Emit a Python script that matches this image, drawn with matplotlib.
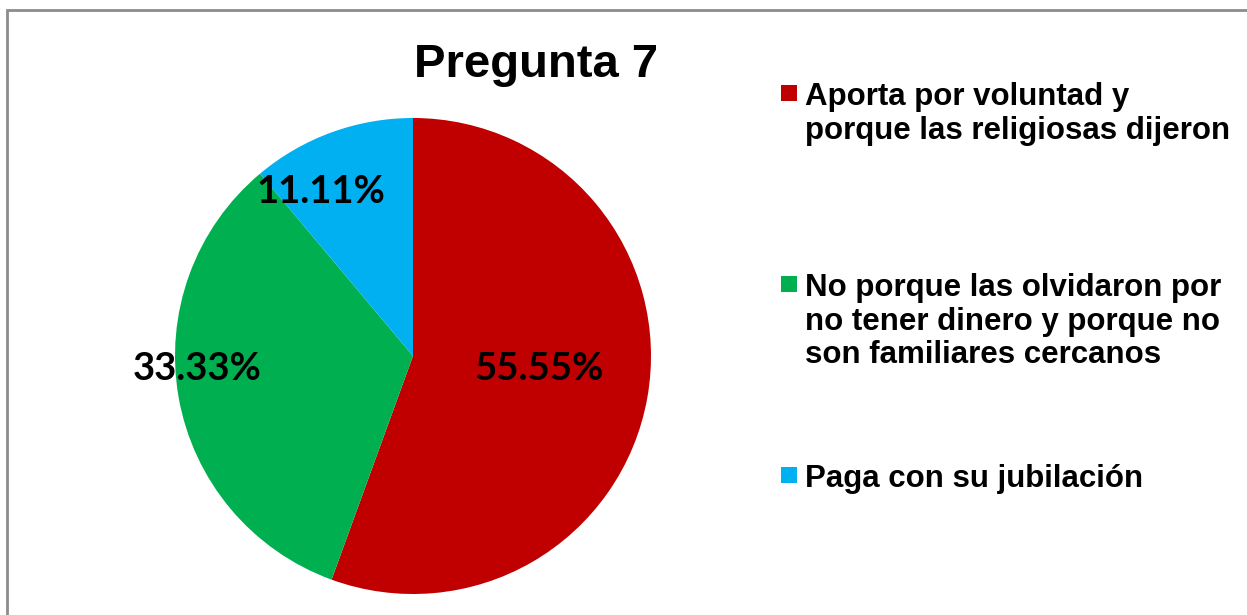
import numpy as np
import matplotlib.pyplot as plt
from matplotlib.patches import Rectangle

# datos de la pregunta 7
categorias = ['Aporta por voluntad y\nporque las religiosas dijeron',
              'No porque las olvidaron por\nno tener dinero y porque no\nson familiares cercanos',
              'Paga con su jubilación']
valores = [55.55, 33.33, 11.11]
colores = ['#C00000', '#00B050', '#00B0F0']
titulo = 'Pregunta 7'

W, H = 1247, 615
fig = plt.figure(figsize=(W / 100, H / 100), dpi=100)

# marco gris del grafico (se sale por la derecha y abajo)
fig.patches.append(Rectangle((7 / W, -0.1), 1.2, 1 - 10 / H + 0.1,
                             transform=fig.transFigure, fill=False,
                             edgecolor='#8C8C8C', linewidth=2))

# pie: centro (413, 356), radio 238 px
cx, cy, r = 413, 356, 238
ax = fig.add_axes([(cx - r) / W, (H - cy - r) / H, 2 * r / W, 2 * r / H])
wedges, _ = ax.pie(valores, colors=colores, startangle=90, counterclock=False,
                   radius=1, wedgeprops=dict(linewidth=0))
ax.set_xlim(-1, 1)
ax.set_ylim(-1, 1)
ax.set_aspect('equal')
ax.axis('off')

# etiquetas de porcentaje (posicion tipo "best fit" de excel)
label_r = [0.532, 0.907, 0.791]
label_shift = [4.1, -6.5, 9.4]
for w, v, lr, sh in zip(wedges, valores, label_r, label_shift):
    ang = np.deg2rad((w.theta1 + w.theta2) / 2 + sh)
    ax.text(lr * np.cos(ang), lr * np.sin(ang), '{:.2f}%'.format(v),
            ha='center', va='center', fontsize=27.5, fontweight='bold',
            family='Lato', color='black', clip_on=False)

# titulo
fig.text(536 / W, 1 - 77 / H, titulo, ha='center', va='baseline',
         fontsize=34, fontweight='bold', family='Liberation Sans')

# leyenda a mano (cuadro alineado con la primera linea)
for i, (cat, col) in enumerate(zip(categorias, colores)):
    base = 104 + i * 191
    fig.patches.append(Rectangle((781 / W, 1 - (base - 3) / H), 16 / W, 16 / H,
                                 transform=fig.transFigure, facecolor=col,
                                 edgecolor='none'))
    fig.text(805 / W, 1 - (base - 22) / H, cat, ha='left', va='top',
             fontsize=22.5, fontweight='bold', family='Liberation Sans',
             linespacing=1.16)

fig.savefig('out.png', dpi=100)
